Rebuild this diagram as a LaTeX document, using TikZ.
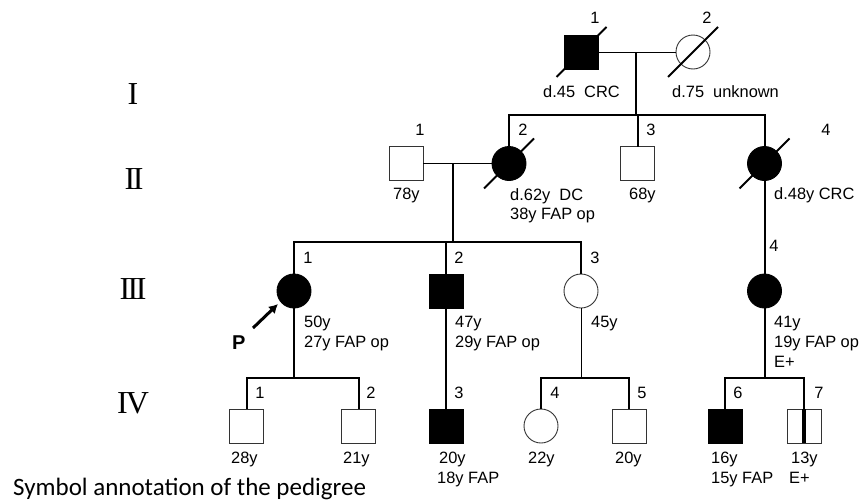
\documentclass[tikz,border=0pt]{standalone}
\usepackage{fontspec}
\setmainfont{Liberation Sans}
\newfontfamily\serifnum{Liberation Serif}
\newfontfamily\capfont{Carlito}
\usetikzlibrary{arrows.meta}
\begin{document}
\begin{tikzpicture}[x=1pt,y=-1pt,
  sym/.style={draw=black!80, line width=0.9pt, minimum size=34pt, inner sep=0pt, outer sep=0pt},
  male/.style={sym, rectangle},
  female/.style={sym, circle},
  aff/.style={fill=black, draw=black},
  heavy/.style={line width=2pt},
  light/.style={line width=1pt},
  slash/.style={line width=1.8pt},
  lbl/.style={font=\fontsize{16.4}{19}\selectfont, inner sep=0pt, anchor=base west},
  num/.style={font=\fontsize{16.4}{19}\selectfont, inner sep=0pt, anchor=base},
  gen/.style={font=\fontsize{32}{34}\serifnum, inner sep=0pt}
]
\useasboundingbox (0,0) rectangle (864,501);

% generation numerals
\node[gen] (gI)   at (133,94)  {I};
\node[gen] (gII)  at (134,179) {I\kern-2.5pt I};
\node[gen] (gIII) at (133,289) {I\kern-2.5pt I\kern-2.5pt I};
\node[gen] (gIV)  at (133,403) {I\kern-2pt V};

% generation I
\node[male,aff] (I1) at (581.5,52) {};
\node[female] (I2) at (693,52) {};
% generation II
\node[male] (II1) at (406,163.5) {};
\node[female,aff] (II2) at (509,163.5) {};
\node[male] (II3) at (637.5,163.5) {};
\node[female,aff] (II4) at (764.5,163.5) {};
% generation III
\node[female,aff] (III1) at (294,291) {};
\node[male,aff] (III2) at (446,291) {};
\node[female] (III3) at (581,291) {};
\node[female,aff] (III4) at (764.5,291) {};
% generation IV
\node[male] (IV1) at (246.5,426) {};
\node[male] (IV2) at (358.5,426) {};
\node[male,aff] (IV3) at (446,426) {};
\node[female] (IV4) at (541,426) {};
\node[male] (IV5) at (629,426) {};
\node[male,aff] (IV6) at (725,426) {};
\node[male] (IV7) at (804,426) {};
\draw[line width=4pt] (IV7.north) -- (IV7.south);

% connectors generation I
\draw[light] (I1.east) -- (I2.west);
\coordinate (m1) at (636,52);
\coordinate (s1) at (636,115);
\draw[heavy] (m1) -- (s1);
\draw[heavy] (II2.north) -- (II2.north |- s1) -- (II4.north |- s1) -- (II4.north);
\draw[heavy] (II3.north) -- (II3.north |- s1);
% generation II
\draw[light] (II1.east) -- (II2.west);
\coordinate (m2) at (453,163.5);
\coordinate (s2) at (453,242);
\draw[heavy] (m2) -- (s2);
\draw[heavy] (III1.north) -- (III1.north |- s2) -- (III3.north |- s2) -- (III3.north);
\draw[heavy] (III2.north) -- (III2.north |- s2);
\draw[heavy] (II4.south) -- (III4.north);
% generation III
\coordinate (s3) at (294,378);
\draw[heavy] (III1.south) -- (s3);
\draw[heavy] (IV1.north) -- (IV1.north |- s3) -- (IV2.north |- s3) -- (IV2.north);
\draw[heavy] (III2.south) -- (IV3.north);
\coordinate (s4) at (581,378);
\draw[light] (III3.south) -- (s4);
\draw[heavy] (IV4.north) -- (IV4.north |- s4) -- (IV5.north |- s4) -- (IV5.north);
\coordinate (s5) at (764.5,378);
\draw[heavy] (III4.south) -- (s5);
\draw[heavy] (IV6.north) -- (IV6.north |- s5) -- (IV7.north |- s5) -- (IV7.north);

% deceased slashes
\draw[slash] ([shift={(-25,25)}]I1.center) -- ([shift={(25,-25)}]I1.center);
\draw[slash] ([shift={(-25,25)}]I2.center) -- ([shift={(25,-25)}]I2.center);
\draw[slash] ([shift={(-25,25)}]II2.center) -- ([shift={(25,-25)}]II2.center);
\draw[slash] ([shift={(-25,25)}]II4.center) -- ([shift={(25,-25)}]II4.center);

% proband arrow
\coordinate (pa) at (253,328);
\coordinate (pb) at (278,304);
\draw[line width=3pt, -{Latex[length=9pt,width=10pt]}] (pa) -- (pb);
\node[lbl, font=\fontsize{20}{22}\selectfont\bfseries] (P) at (232,349) {P};

% labels generation I
\node[num] (nI1) at (595,23) {1};
\node[num] (nI2) at (707,23) {2};
\node[lbl] (tI1) at (543,97) {d.45\ \ CRC};
\node[lbl] (tI2) at (672,97) {d.75\ \ unknown};
% labels generation II
\node[num] (nII1) at (420,135) {1};
\node[lbl] (tII1) at (393,199) {78y};
\node[num] (nII2) at (523,135) {2};
\node[lbl] (tII2a) at (510,200) {d.62y\ \ DC};
\node[lbl] (tII2b) at (510,219) {38y FAP op};
\node[num] (nII3) at (651,135) {3};
\node[lbl] (tII3) at (629,199) {68y};
\node[num] (nII4) at (826,135) {4};
\node[lbl] (tII4) at (774,199) {d.48y CRC};
% labels generation III
\node[num] (nIII1) at (308,263) {1};
\node[lbl] (tIII1a) at (304,327) {50y};
\node[lbl] (tIII1b) at (304,347) {27y FAP op};
\node[num] (nIII2) at (459,263) {2};
\node[lbl] (tIII2a) at (455,327) {47y};
\node[lbl] (tIII2b) at (455,347) {29y FAP op};
\node[num] (nIII3) at (595,263) {3};
\node[lbl] (tIII3) at (591,327) {45y};
\node[num] (nIII4) at (774,251) {4};
\node[lbl] (tIII4a) at (774,327) {41y};
\node[lbl] (tIII4b) at (774,347) {19y FAP op};
\node[lbl] (tIII4c) at (774,367) {E+};
% labels generation IV
\node[num] (nIV1) at (260,398) {1};
\node[lbl] (tIV1) at (231,463) {28y};
\node[num] (nIV2) at (371,398) {2};
\node[lbl] (tIV2) at (343,463) {21y};
\node[num] (nIV3) at (459,398) {3};
\node[lbl] (tIV3a) at (439,463) {20y};
\node[lbl] (tIV3b) at (437,483) {18y FAP};
\node[num] (nIV4) at (555,398) {4};
\node[lbl] (tIV4) at (528,463) {22y};
\node[num] (nIV5) at (642,398) {5};
\node[lbl] (tIV5) at (615,463) {20y};
\node[num] (nIV6) at (738,398) {6};
\node[lbl] (tIV6a) at (711,463) {16y};
\node[lbl] (tIV6b) at (711,483) {15y FAP};
\node[num] (nIV7) at (819,398) {7};
\node[lbl] (tIV7a) at (791,463) {13y};
\node[lbl] (tIV7b) at (789,483) {E+};

% caption
\node[font=\fontsize{25}{30}\capfont, anchor=base west, inner sep=0pt] (cap) at (13,495) {Symbol annotation of the pedigree};
\end{tikzpicture}
\end{document}
